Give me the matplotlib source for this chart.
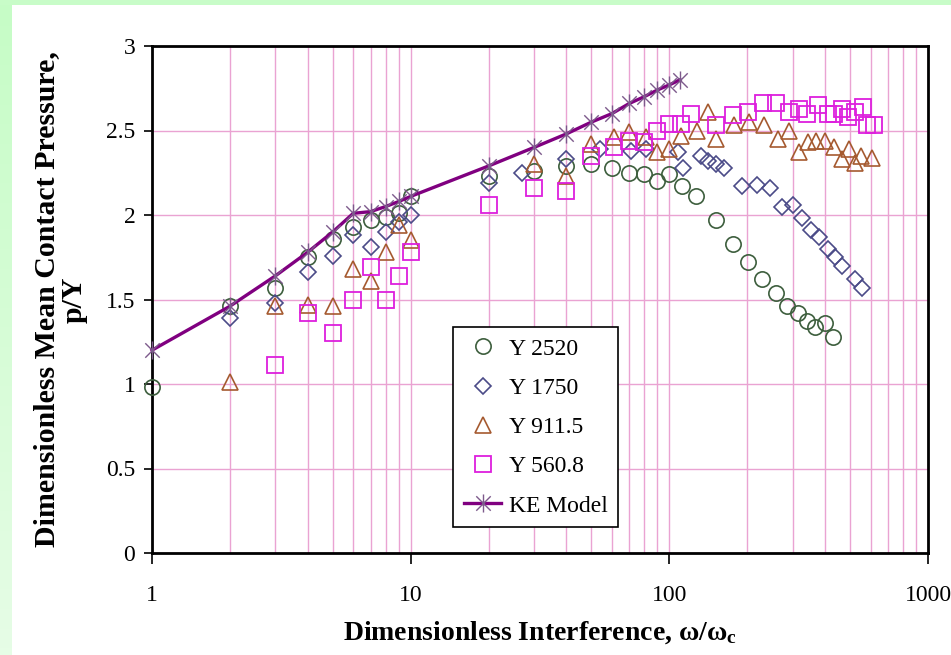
import numpy as np
import matplotlib
matplotlib.use("Agg")
import matplotlib.pyplot as plt
from matplotlib.path import Path
from matplotlib.ticker import LogLocator, FixedLocator, NullFormatter

plt.rcParams['font.family'] = ['Liberation Serif', 'DejaVu Serif']
plt.rcParams['mathtext.fontset'] = 'custom'
plt.rcParams['mathtext.rm'] = 'Liberation Serif'
plt.rcParams['mathtext.bf'] = 'Liberation Serif:bold'

# ---- data ----
x_2520 = [1, 2, 3, 4, 5, 6, 7, 8, 9, 10, 20, 30, 40, 50, 60, 70, 80, 90, 100, 112,
          127, 152, 177, 202, 229, 258, 284, 313, 340, 365, 398, 428]
y_2520 = [0.98, 1.46, 1.57, 1.75, 1.86, 1.93, 1.97, 1.99, 2.01, 2.11, 2.23, 2.26, 2.29,
          2.30, 2.28, 2.25, 2.24, 2.20, 2.24, 2.17, 2.11, 1.97, 1.83, 1.72, 1.62, 1.54,
          1.46, 1.42, 1.37, 1.34, 1.36, 1.28]

x_1750 = [2, 3, 4, 5, 6, 7, 8, 9, 10, 20, 27, 40, 54, 71, 81, 108, 113, 133, 141, 152,
          163, 191, 218, 246, 272, 302, 326, 353, 380, 409, 436, 467, 520, 555]
y_1750 = [1.39, 1.48, 1.66, 1.76, 1.88, 1.81, 1.90, 1.96, 2.00, 2.19, 2.25, 2.33, 2.39,
          2.38, 2.39, 2.37, 2.28, 2.35, 2.32, 2.30, 2.28, 2.17, 2.18, 2.16, 2.05, 2.06,
          1.98, 1.91, 1.87, 1.80, 1.75, 1.70, 1.62, 1.57]

x_911 = [2, 3, 4, 5, 6, 7, 8, 9, 10, 30, 40, 50, 61, 70, 81, 90, 100, 111, 128, 141,
         152, 178, 203, 232, 262, 289, 318, 344, 370, 401, 434, 466, 493, 520, 550, 606]
y_911 = [1.01, 1.46, 1.47, 1.46, 1.68, 1.61, 1.78, 1.94, 1.85, 2.30, 2.23, 2.42, 2.46,
         2.49, 2.46, 2.37, 2.39, 2.47, 2.50, 2.61, 2.45, 2.53, 2.55, 2.53, 2.45, 2.50,
         2.37, 2.43, 2.44, 2.44, 2.40, 2.33, 2.39, 2.31, 2.35, 2.34]

x_560 = [3, 4, 5, 6, 7, 8, 9, 10, 20, 30, 40, 50, 61, 70, 80, 90, 100, 111, 121, 152,
         177, 201, 230, 259, 289, 316, 342, 376, 410, 434, 466, 491, 522, 563, 580, 620]
y_560 = [1.11, 1.42, 1.30, 1.50, 1.69, 1.50, 1.64, 1.78, 2.06, 2.16, 2.14, 2.35, 2.40,
         2.44, 2.43, 2.50, 2.54, 2.54, 2.60, 2.53, 2.59, 2.61, 2.66, 2.66, 2.61, 2.63,
         2.60, 2.65, 2.60, 2.60, 2.63, 2.58, 2.61, 2.64, 2.53, 2.53]

x_ke = [1, 2, 3, 4, 5, 6, 7, 8, 9, 10, 20, 30, 40, 50, 60, 70, 80, 90, 100, 110]
y_ke = [1.20, 1.46, 1.64, 1.78, 1.90, 2.01, 2.02, 2.05, 2.08, 2.11, 2.29, 2.40, 2.48,
        2.55, 2.60, 2.66, 2.70, 2.74, 2.77, 2.80]

x_ticks = [1, 10, 100, 1000]
x_ticklabels = ['1', '10', '100', '1000']
y_ticks = [0, 0.5, 1, 1.5, 2, 2.5, 3]
y_ticklabels = ['0', '0.5', '1', '1.5', '2', '2.5', '3']

# asterisk marker: X plus a vertical stroke
star = Path([(-1, -1), (1, 1), (-1, 1), (1, -1), (0, -1.25), (0, 1.25)],
            [Path.MOVETO, Path.LINETO, Path.MOVETO, Path.LINETO, Path.MOVETO, Path.LINETO])

fig = plt.figure(figsize=(9.51, 6.55), dpi=100)
fig.patch.set_facecolor('white')

# green frame strips on the left and top
strip = fig.add_axes([0, 0, 12 / 951, 1])
strip.imshow(np.linspace(0, 1, 100).reshape(-1, 1), aspect='auto',
             cmap=matplotlib.colors.LinearSegmentedColormap.from_list('g', ['#c6fcc6', '#e6fde6']),
             extent=[0, 1, 0, 1])
strip.axis('off')
top = fig.add_axes([0, 1 - 5 / 655, 1, 5 / 655])
top.set_facecolor('#c8fcc8')
top.set_xticks([])
top.set_yticks([])
for s in top.spines.values():
    s.set_visible(False)

ax = fig.add_axes([152 / 951, 1 - 553 / 655, 776 / 951, 507 / 655])
ax.set_xscale('log')
ax.set_xlim(1, 1000)
ax.set_ylim(0, 3)

grid_c = '#eaa3d2'
ax.xaxis.set_major_locator(FixedLocator(x_ticks))
ax.xaxis.set_minor_locator(LogLocator(base=10, subs=range(2, 10)))
ax.xaxis.set_minor_formatter(NullFormatter())
ax.set_xticks(x_ticks)
ax.set_xticklabels(x_ticklabels)
ax.set_yticks(y_ticks)
ax.set_yticklabels(y_ticklabels)
ax.grid(True, which='both', axis='x', color=grid_c, lw=1)
ax.grid(True, which='major', axis='y', color=grid_c, lw=1)
ax.set_axisbelow(True)

ax.tick_params(axis='x', which='major', direction='out', length=8, width=1.2,
               labelsize=17, pad=15)
ax.tick_params(axis='x', which='minor', length=0)
ax.tick_params(axis='y', direction='out', length=6, width=1.2, labelsize=17, pad=6)
for side in ['left', 'bottom', 'top', 'right']:
    ax.spines[side].set_linewidth(2)
    ax.spines[side].set_color('black')

ms = 11
ax.plot(x_2520, y_2520, 'o', ms=ms, mfc='none', mec='#3d5e3d', mew=1.2,
        label='Y 2520', clip_on=False, zorder=3)
ax.plot(x_1750, y_1750, 'D', ms=ms - 2.5, mfc='none', mec='#4b4b88', mew=1.2,
        label='Y 1750', clip_on=False, zorder=3)
ax.plot(x_911, y_911, '^', ms=ms + 1, mfc='none', mec='#a55a30', mew=1.2,
        label='Y 911.5', clip_on=False, zorder=3)
ax.plot(x_560, y_560, 's', ms=ms, mfc='none', mec='#dd1fdd', mew=1.3,
        label='Y 560.8', clip_on=False, zorder=3)
ax.plot(x_ke, y_ke, '-', color='#800080', lw=2.4, marker=star, ms=13,
        mec='#7d5a8c', mew=1.0, label='KE Model', clip_on=False, zorder=4)

ax.set_xlabel(r'Dimensionless Interference, $\mathbf{\omega/\omega_c}$',
              fontsize=20, fontweight='bold', labelpad=10)
ax.set_ylabel('Dimensionless Mean Contact Pressure,\np/Y', fontsize=21.5,
              fontweight='bold', labelpad=13, linespacing=1.05)

leg = ax.legend(loc='lower left', bbox_to_anchor=(0.388, 0.051), borderaxespad=0,
                fontsize=17, frameon=True, fancybox=False, edgecolor='black',
                framealpha=1, handlelength=1.6, handletextpad=0.3,
                labelspacing=0.75, borderpad=0.45)
leg.get_frame().set_linewidth(1.2)

fig.savefig('out.png', dpi=100, facecolor='white')
